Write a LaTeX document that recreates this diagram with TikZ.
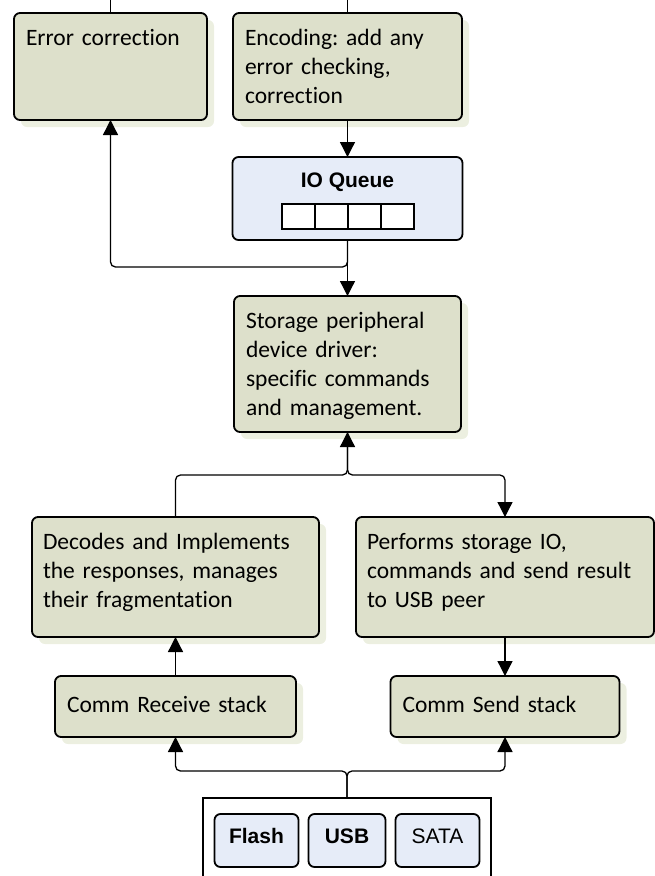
\documentclass[tikz,border=0pt]{standalone}
\usepackage{fontspec}
\setmainfont{Carlito}[Ligatures=NoCommon]
\newfontfamily\arialfont{Liberation Sans}
\usetikzlibrary{arrows.meta, positioning, calc, shadows}
\definecolor{boxGreen}{RGB}{221,224,203}
\definecolor{shadowGreen}{RGB}{236,239,224}
\definecolor{queueBlue}{RGB}{230,236,248}
\newcommand{\boxfont}{\fontsize{23.5}{29}\selectfont}
\newcommand{\hwfont}{\arialfont\fontsize{21}{25}\selectfont}
\frenchspacing

\begin{document}
\begin{tikzpicture}[
        x=1pt, y=-1pt,
        node distance=10pt,
        gbox/.style={draw, line width=1.8pt, rounded corners=6pt, fill=boxGreen, font=\boxfont, align=left, outer sep=0pt,
            inner xsep=12pt, inner ysep=8pt, text height=24pt,
            drop shadow={shadow xshift=7pt, shadow yshift=-7pt, fill=shadowGreen, opacity=1}},
        bbox/.style={draw, line width=1.8pt, rounded corners=6pt, fill=queueBlue, font=\hwfont, align=center, outer sep=0pt},
        hbox/.style={bbox, minimum height=53pt, inner ysep=0pt, text height=15pt, text depth=10pt},
        slot/.style={draw, line width=1.3pt, fill=white, minimum width=33pt, minimum height=25pt, inner sep=0pt},
        arrow/.style={-{Triangle[length=15pt, width=15pt]}, line width=1.3pt, rounded corners=5pt},
        wire/.style={line width=1.3pt, rounded corners=5pt}
    ]
        \useasboundingbox (0,0) rectangle (655,876);

        % Upper boxes
        \node[gbox, text width=169pt, text depth=67pt, anchor=north west] (errc) at (14,13) {Error correction};
        \node[gbox, text width=205pt, text depth=67pt, right=26pt of errc] (enc) {Encoding: add any\\error checking,\\correction};

        % IO Queue
        \node[bbox, minimum width=230pt, inner ysep=8pt, text height=22pt, text depth=45pt, below=37pt of enc] (ioq) {\bfseries IO Queue};
        \foreach \i in {1,...,4}
            \node[slot] (slot\i) at ($(ioq.south)+({33*\i-82},-23.5)$) {};

        % Driver
        \node[gbox, text width=203pt, text depth=96pt, below=56pt of ioq] (stor) {Storage peripheral\\device driver:\\specific commands\\and management.};

        % Receive / send side
        \node[gbox, text width=265pt, text depth=80pt, inner xsep=11pt, anchor=north west] (dec) at (32,517) {Decodes and Implements\\the responses, manages\\their fragmentation};
        \node[gbox, text width=276pt, text depth=80pt, inner xsep=11pt, right=37pt of dec] (perf) {Performs storage IO,\\commands and send result\\to USB peer};
        \node[gbox, text width=217pt, text height=28pt, text depth=17pt, below=39pt of dec] (comrec) {Comm Receive stack};
        \node[gbox, text width=205pt, text height=28pt, text depth=17pt, below=39pt of perf] (comsnd) {Comm Send stack};

        % Hardware
        \node[draw, line width=1.8pt, fill=white, minimum width=288pt, minimum height=120pt, outer sep=0pt, anchor=north] (hw) at (347,798) {};
        \node[hbox, minimum width=77pt, below=16pt of hw.north] (usb) {\bfseries USB};
        \node[hbox, minimum width=84pt, left=10pt of usb] (flash) {\bfseries Flash};
        \node[hbox, minimum width=84pt, right=10pt of usb] (sata) {SATA};

        % Arrows
        \coordinate (inL) at ($(errc.north)+(0,-20)$);
        \coordinate (inR) at ($(enc.north)+(0,-20)$);
        \draw[wire] (inL) -- (errc.north);
        \draw[wire] (inR) -- (enc.north);
        \draw[arrow] (enc) -- (ioq);
        \draw[arrow] (ioq) -- (stor);
        \draw[arrow] (ioq.south) |- ($(errc.south)+(0,147)$) -- (errc.south);
        \draw[arrow] (dec.north) |- ($(stor.south)+(0,43)$) -- (stor.south);
        \draw[arrow] (stor.south) |- ($(perf.north)+(0,-42)$) -- (perf.north);
        \draw[arrow] (comrec) -- (dec);
        \draw[arrow] (perf) -- (comsnd);
        \draw[arrow] (hw.north) |- ($(comrec.south)+(0,34)$) -- (comrec.south);
        \draw[arrow] (hw.north) |- ($(comsnd.south)+(0,34)$) -- (comsnd.south);
    \end{tikzpicture}
\end{document}
